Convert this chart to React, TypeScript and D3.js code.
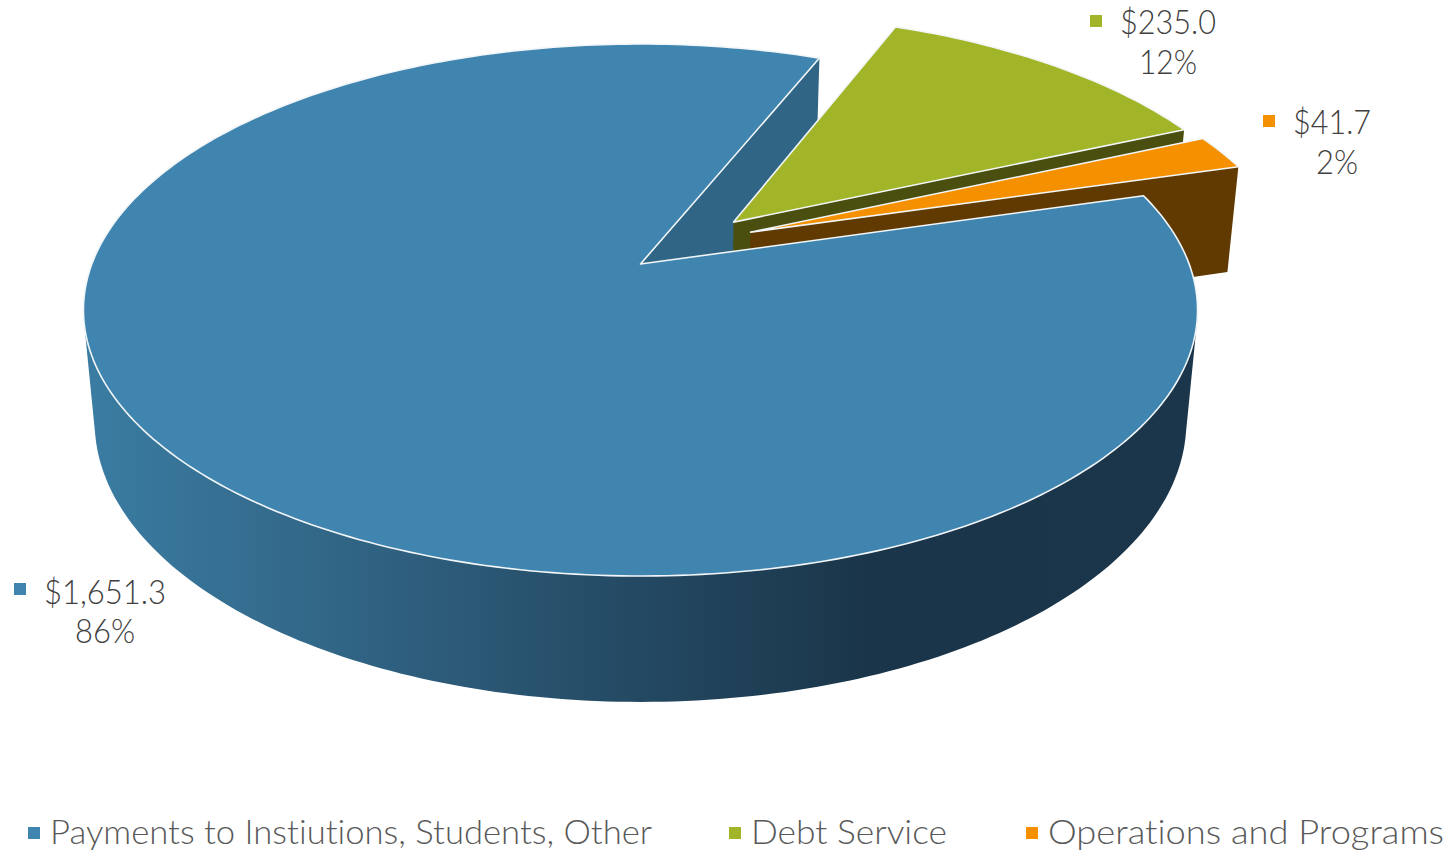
import React from "react";
import * as d3 from "d3";

// ---- data ----
const categories = ["Payments to Instiutions, Students, Other", "Debt Service", "Operations and Programs"];
const amounts = [1651.3, 235.0, 41.7];
const amountLabels = ["$1,651.3", "$235.0", "$41.7"];
const percentLabels = ["86%", "12%", "2%"];
const topColors = ["#4085B0", "#A2B427", "#F59000"];
const cutColors = ["#306585", "#4A4F10", "#603A00"];
const explodeX = [0, 0.1745, 0.205];
const explodeY = [0, -0.167, -0.126];

const W = 1454;
const H = 852;
// camera
const cx = 640.5, cy = 310, rx = 557, ry = 266;
const camA = -0.173, camK = 0.985, camC = 0.02, camD = 0.421;
const firstAngle = (73.9 * Math.PI) / 180;

const project = (x: number, y: number, z: number): [number, number] => {
  const w = 1 + camA * y + camC * z;
  return [cx + (rx * camK * x) / w, cy + (ry * (y + camA + camD * z)) / w];
};

const pieGen = d3.pie<number>().sort(null).startAngle(firstAngle).endAngle(firstAngle + 2 * Math.PI);
const arcs = pieGen(amounts);

const rimPoint = (i: number, a: number, z: number) =>
  project(explodeX[i] + Math.sin(a), explodeY[i] - Math.cos(a), z);
const apexPoint = (i: number, z: number) => project(explodeX[i], explodeY[i], z);

const line = d3.line();
const closed = (pts: [number, number][]) => line(pts) + "Z";

const topPath = (i: number) => {
  const { startAngle: s, endAngle: e } = arcs[i];
  const n = Math.max(12, Math.ceil(((e - s) * 180) / Math.PI));
  const rim = d3.range(n + 1).map((k) => rimPoint(i, s + ((e - s) * k) / n, 0));
  return closed([apexPoint(i, 0), ...rim]);
};

// flat face left by the cut at the given angle
const cutPath = (i: number, a: number) =>
  closed([apexPoint(i, 0), rimPoint(i, a, 0), rimPoint(i, a, 1), apexPoint(i, 1)]);

// outer wall of the large slice: hull of its near rim, top and bottom
const wallAngles = d3.range(90, 271, 1).map((d) => (d * Math.PI) / 180);
const wallHull = d3.polygonHull(
  wallAngles.flatMap((a) => [rimPoint(0, a, 0), rimPoint(0, a, 1)])
) as [number, number][];

const wallStops: [number, string][] = [
  [88, "#3A7CA2"],
  [300, "#33698A"],
  [560, "#27506B"],
  [870, "#1A3549"],
  [1190, "#1B364A"],
];
const xNorm = d3.scaleLinear().domain([88, 1190]).range([0, 1]);

const legendSwatchX = [28, 729, 1026];
const legendTextX = [50, 751, 1048];
const legendTextW = [602, 196, 396];
const labelSwatch: [number, number][] = [[14, 583], [1090, 15], [1263, 115]];
const labelAmountX = [44, 1120, 1293];
const labelAmountW = [122, 96, 78];
const labelAmountY = [604, 34, 134];
const labelPctCx = [105, 1168, 1337];
const labelPctW = [60, 58, 42];
const labelPctY = [643, 74, 174];

const font = "Lato, 'Open Sans', sans-serif";
const edge = { stroke: "#F2F6F8", strokeWidth: 1.6, strokeLinejoin: "round" as const };
const textStyle = { fontVariantLigatures: "none" };

export default function App() {
  return (
    <svg width={W} height={H} viewBox={`0 0 ${W} ${H}`}
      style={{ position: "absolute", left: 0, top: 0, background: "#fff" }}>
      <defs>
        <linearGradient id="wall" gradientUnits="userSpaceOnUse" x1={88} x2={1190} y1={0} y2={0}>
          {wallStops.map(([x, c]) => (
            <stop key={x} offset={xNorm(x)} stopColor={c} />
          ))}
        </linearGradient>
      </defs>

      {/* cut face of the large slice, behind everything */}
      <path d={cutPath(0, arcs[0].endAngle)} fill={cutColors[0]} />
      {/* green slice */}
      <path d={cutPath(1, arcs[1].endAngle)} fill={cutColors[1]} />
      <path d={topPath(1)} fill={topColors[1]} {...edge} />
      {/* orange slice */}
      <path d={cutPath(2, arcs[2].endAngle)} fill={cutColors[2]} />
      <path d={topPath(2)} fill={topColors[2]} {...edge} />
      {/* large slice */}
      <path d={closed(wallHull)} fill="url(#wall)" />
      <path d={topPath(0)} fill={topColors[0]} {...edge} />

      {/* data labels */}
      {categories.map((c, i) => (
        <g key={c} fontFamily={font} fontWeight={300} fontSize={33} fill="#404040" style={textStyle}>
          <rect x={labelSwatch[i][0]} y={labelSwatch[i][1]} width={12} height={12} fill={topColors[i]} />
          <text x={labelAmountX[i]} y={labelAmountY[i]} textLength={labelAmountW[i]} lengthAdjust="spacingAndGlyphs">
            {amountLabels[i]}
          </text>
          <text x={labelPctCx[i]} y={labelPctY[i]} textAnchor="middle" textLength={labelPctW[i]} lengthAdjust="spacingAndGlyphs">
            {percentLabels[i]}
          </text>
        </g>
      ))}

      {/* legend */}
      {categories.map((c, i) => (
        <g key={c} fontFamily={font} fontWeight={300} fontSize={33} fill="#595959" style={textStyle}>
          <rect x={legendSwatchX[i]} y={827} width={12} height={12} fill={topColors[i]} />
          <text x={legendTextX[i]} y={844} textLength={legendTextW[i]} lengthAdjust="spacingAndGlyphs">
            {c}
          </text>
        </g>
      ))}
    </svg>
  );
}
